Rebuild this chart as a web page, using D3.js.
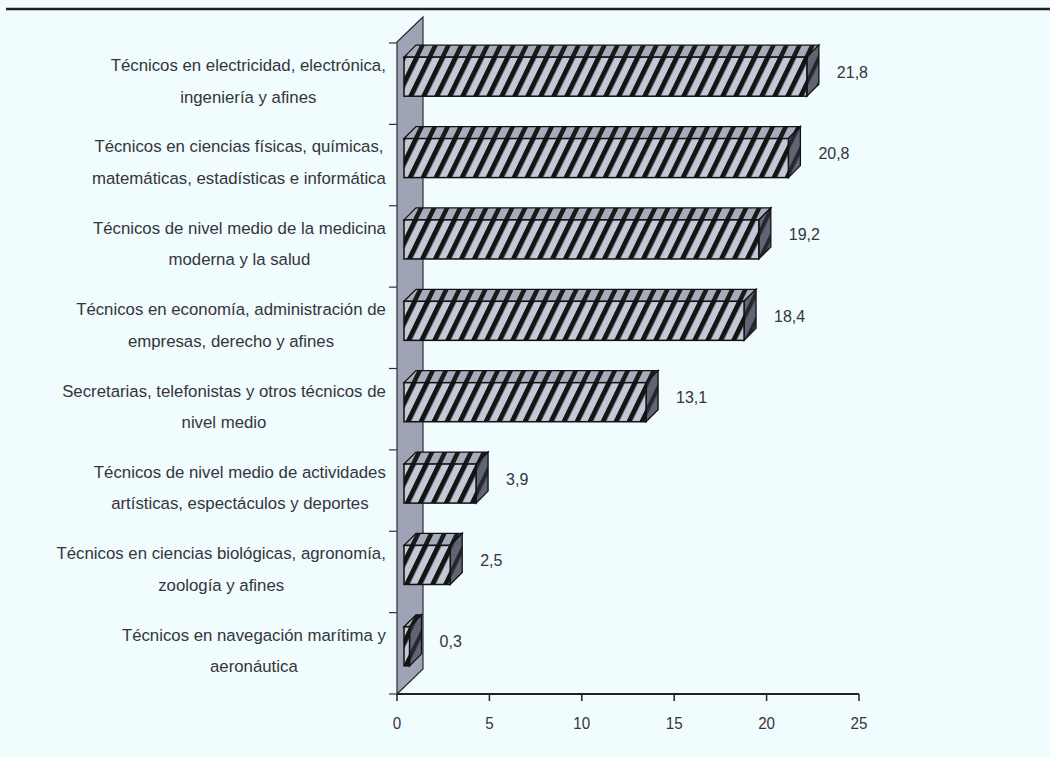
<!DOCTYPE html>
<html>
<head>
<meta charset="utf-8">
<script src="https://cdn.jsdelivr.net/npm/d3@7/dist/d3.min.js"></script>
<style>
  html, body { margin: 0; padding: 0; background: #f0fcfd; }
  svg { display: block; }
  text { font-family: "Liberation Sans", Arial, sans-serif; fill: #35353a; }
</style>
</head>
<body>
<svg id="chart" width="1050" height="757"></svg>
<script>
// ---- data ----
const categories = [
  ["Técnicos en electricidad, electrónica,", "ingeniería y afines"],
  ["Técnicos en ciencias físicas, químicas,", "matemáticas, estadísticas e informática"],
  ["Técnicos de nivel medio de la medicina", "moderna y la salud"],
  ["Técnicos en economía, administración de", "empresas, derecho  y afines"],
  ["Secretarias, telefonistas y otros técnicos de", "nivel medio"],
  ["Técnicos de nivel medio de actividades", "artísticas, espectáculos y deportes"],
  ["Técnicos en ciencias biológicas, agronomía,", "zoología y afines"],
  ["Técnicos en navegación marítima y", "aeronáutica"]
];
const values = [21.8, 20.8, 19.2, 18.4, 13.1, 3.9, 2.5, 0.3];
const valueLabels = ["21,8", "20,8", "19,2", "18,4", "13,1", "3,9", "2,5", "0,3"];
const xTicks = [0, 5, 10, 15, 20, 25];

// ---- layout ----
const svg = d3.select("#chart");
const W = 1050, H = 757;
const keys = categories.map((c, i) => i);

const x = d3.scaleLinear().domain([0, 25]).range([397, 859]);
const y = d3.scaleBand().domain(keys).range([43, 694]).paddingInner(0.52).paddingOuter(0.26);
const yOuter = d3.scaleBand().domain(keys).range([43, 694]).padding(0);

const wallDx = 26, wallDy = -25;
const barOx = 7, barOy = -7, depthDx = 12, depthDy = -12;

const defs = svg.append("defs");
function hatch(id, bg, line, lw) {
  const p = defs.append("pattern")
    .attr("id", id)
    .attr("patternUnits", "userSpaceOnUse")
    .attr("width", 13).attr("height", 200)
    .attr("patternTransform", "skewX(-26)");
  p.append("rect").attr("width", 13).attr("height", 200).attr("fill", bg);
  p.append("rect").attr("x", 0).attr("width", lw).attr("height", 200).attr("fill", line);
}
hatch("hFront", "#c3c8d7", "#141414", 5.5);
hatch("hTop", "#a6acbc", "#1a1a1a", 5);
hatch("hSide", "#5f6575", "#25272e", 4.5);

// top rule
svg.append("line").attr("x1", 6).attr("x2", W).attr("y1", 9).attr("y2", 9)
  .attr("stroke", "#222").attr("stroke-width", 2.5);

// wall
const x0 = x(0), yTop = 43, yBot = 694;
svg.append("polygon")
  .attr("points", [[x0, yTop - 1], [x0 + wallDx, yTop - 1 + wallDy], [x0 + wallDx, yBot + wallDy], [x0, yBot]].map(p => p.join(",")).join(" "))
  .attr("fill", "#9ea4b5").attr("stroke", "#2b2d33").attr("stroke-width", 1.2);

// y axis ticks (category boundaries)
const bounds = keys.map(k => yOuter(k)).concat([yBot]);
svg.selectAll(".ytick").data(bounds).join("line")
  .attr("x1", x0 - 8).attr("x2", x0).attr("y1", d => d).attr("y2", d => d)
  .attr("stroke", "#333").attr("stroke-width", 1.2);

// x axis
const xAxis = svg.append("g").attr("transform", `translate(0,${yBot})`);
xAxis.append("line").attr("x1", x0).attr("x2", x(25)).attr("y1", 0).attr("y2", 0)
  .attr("stroke", "#222").attr("stroke-width", 2);
xAxis.selectAll(".xt").data(xTicks).join("line")
  .attr("x1", d => x(d)).attr("x2", d => x(d)).attr("y1", 0).attr("y2", 7)
  .attr("stroke", "#222").attr("stroke-width", 1.5);
xAxis.selectAll(".xl").data(xTicks).join("text")
  .attr("transform", d => `translate(${x(d)},35) scale(0.95,1.05)`)
  .attr("text-anchor", "middle")
  .attr("font-size", 16)
  .text(d => d);

// bars
const bars = svg.append("g");
values.forEach((v, i) => {
  const fx = x0 + barOx;
  const fy = y(i) + barOy;
  const w = x(v) - x0;
  const h = y.bandwidth();
  const g = bars.append("g");
  g.append("polygon")
    .attr("points", [[fx, fy], [fx + depthDx, fy + depthDy], [fx + w + depthDx, fy + depthDy], [fx + w, fy]].map(p => p.join(",")).join(" "))
    .attr("fill", "url(#hTop)").attr("stroke", "#111").attr("stroke-width", 1.3);
  g.append("polygon")
    .attr("points", [[fx + w, fy], [fx + w + depthDx, fy + depthDy], [fx + w + depthDx, fy + h + depthDy], [fx + w, fy + h]].map(p => p.join(",")).join(" "))
    .attr("fill", "url(#hSide)").attr("stroke", "#111").attr("stroke-width", 1.3);
  g.append("rect")
    .attr("x", fx).attr("y", fy).attr("width", w).attr("height", h)
    .attr("fill", "url(#hFront)").attr("stroke", "#111").attr("stroke-width", 1.5);
  // value label
  svg.append("text")
    .attr("transform", `translate(${fx + w + depthDx + 18},${fy + h / 2 + 1}) scale(1,1.05)`)
    .attr("font-size", 16)
    .text(valueLabels[i]);
});

// category labels
const labelRight = 386;
const lg = svg.append("g");
categories.forEach((lines, i) => {
  const cy = yOuter(i) + yOuter.bandwidth() / 2;
  const g = lg.append("g");
  const sx = 1.05;
  const texts = lines.map((t, j) => g.append("text")
    .attr("font-size", 16)
    .attr("text-anchor", "middle")
    .attr("x", 0).attr("y", j === 0 ? -12 : 18)
    .text(t));
  const maxW = d3.max(texts, t => t.node().getComputedTextLength()) * sx;
  g.attr("transform", `translate(${labelRight - maxW / 2},${cy}) scale(${sx},1.05)`);
});
</script>
</body>
</html>
